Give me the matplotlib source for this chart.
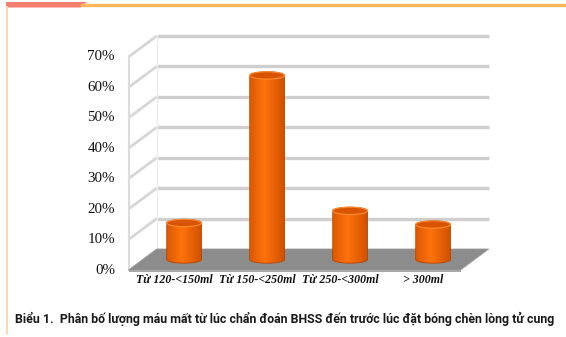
import numpy as np
import matplotlib
matplotlib.use("Agg")
import matplotlib.pyplot as plt
from matplotlib import font_manager
from matplotlib.patches import Polygon, Ellipse, Rectangle
from matplotlib.path import Path
from matplotlib.patches import PathPatch

categories = ["Từ 120-<150ml", "Từ 150-<250ml", "Từ 250-<300ml", "> 300ml"]
values = [0.120, 0.605, 0.160, 0.115]
yticks = [0.0, 0.1, 0.2, 0.3, 0.4, 0.5, 0.6, 0.7]
ytick_labels = ["0%", "10%", "20%", "30%", "40%", "50%", "60%", "70%"]
caption = "Biểu 1.  Phân bố lượng máu mất từ lúc chẩn đoán BHSS đến trước lúc đặt bóng chèn lòng tử cung"

names = {f.name for f in font_manager.fontManager.ttflist}
narrow = "Liberation Sans Narrow" if "Liberation Sans Narrow" in names else "Roboto"
serif = "Liberation Serif"

fig = plt.figure(figsize=(5.66, 3.37), dpi=100)
ax = fig.add_axes([128.5 / 566, 67 / 337, 332 / 566, 213 / 337])
ax.set_xlim(-0.5, 3.5)
ax.set_ylim(0, 0.7)
ax.axis("off")

# depth of the 3d box in data units
dx, dy = 0.34, 0.069

# frame of the page
fig.add_artist(plt.Line2D([82 / 566, 1], [1 - 5 / 337] * 2, color="#fdb75c", lw=2.4))
fig.add_artist(Polygon([[6 / 566, 1 - 2 / 337], [87 / 566, 1 - 2 / 337], [81 / 566, 1 - 7.5 / 337],
                        [6 / 566, 1 - 7.5 / 337]], closed=True, color="#f57f6f", lw=0))
fig.add_artist(plt.Line2D([6.8 / 566] * 2, [1 - 7 / 337, 1 - 333 / 337], color="#fdd7ad", lw=1.4))

# back wall grid lines and left wall diagonals
for y in yticks[1:]:
    ax.plot([-0.5 + dx, 3.5 + dx], [y + dy, y + dy], color="#cfcfcf", lw=2.4,
            solid_capstyle="butt", clip_on=False, zorder=1)
    ax.plot([-0.5, -0.5 + dx], [y, y + dy], color="#d6d6d6", lw=2.0,
            solid_capstyle="butt", clip_on=False, zorder=1)
ax.plot([-0.5, -0.5], [0, 0.7], color="#dcdcdc", lw=1.5, clip_on=False, zorder=1)
ax.plot([-0.5 + dx, -0.5 + dx], [dy, 0.7 + dy], color="#ececec", lw=1.0, clip_on=False, zorder=1)

# floor
floor = Polygon([[-0.5, 0], [3.5, 0], [3.5 + dx, dy], [-0.5 + dx, dy]], closed=True,
                facecolor="#8c8c8c", edgecolor="#9a9a9a", lw=0.6, clip_on=False, zorder=2)
ax.add_patch(floor)
ax.add_patch(Polygon([[-0.5, 0], [3.5, 0], [3.5, -0.008], [-0.5, -0.008]], closed=True,
                     facecolor="#a8a8a8", lw=0, clip_on=False, zorder=2))

# cylinders
w = 0.42
eh = 0.024
grad = np.linspace(0, 1, 64)
shade = np.clip(1 - 1.6 * np.abs(grad - 0.42), 0, 1)
c_dark = np.array([0.80, 0.30, 0.0])
c_light = np.array([1.0, 0.45, 0.05])
img = (c_dark[None, :] + (c_light - c_dark)[None, :] * shade[:, None])[None, :, :]

for i, v in enumerate(values):
    cx = i + dx / 2
    base = dy / 2
    top = base + v
    n = 40
    t = np.linspace(np.pi, 2 * np.pi, n)
    bottom_arc = np.column_stack([cx + w / 2 * np.cos(t), base + eh / 2 * np.sin(t)])
    top_arc = np.column_stack([cx + w / 2 * np.cos(t[::-1]), top + eh / 2 * np.sin(t[::-1]) * -1])
    verts = np.vstack([bottom_arc, [[cx + w / 2, top]], top_arc[::-1][::-1], [[cx - w / 2, base]]])
    body = Polygon(verts, closed=True, facecolor="none", edgecolor="#b84400", lw=0.6,
                   clip_on=False, zorder=4)
    ax.add_patch(body)
    im = ax.imshow(img, extent=[cx - w / 2, cx + w / 2, base - eh, top + eh], aspect="auto",
                   zorder=3, interpolation="bilinear")
    im.set_clip_path(body)
    ax.add_patch(Ellipse((cx, top), w, eh, facecolor="#d95400", edgecolor="#ff8a30", lw=0.8,
                         clip_on=False, zorder=5))

ax.set_xlim(-0.5, 3.5)
ax.set_ylim(0, 0.7)

# tick labels
for y, lab in zip(yticks, ytick_labels):
    ax.text(-0.5, y, lab, transform=ax.transData, ha="right", va="center",
            fontsize=10.8, family=serif, color="#111111")
    ax.texts[-1].set_position((-0.5 - 13.5 / 83, y))
for i, lab in enumerate(categories):
    ax.text(i + 0.05, -0.012, lab, ha="center", va="top", fontsize=8.6, family=serif,
            fontweight="bold", fontstyle="italic", color="#111111")

cap = fig.text(15 / 566, 1 - 323 / 337, caption, ha="left", va="baseline", fontsize=12,
               family=[narrow, "DejaVu Sans"], fontweight="bold", color="#1a1a1a")
fig.canvas.draw()
bb = cap.get_window_extent()
cap.set_fontsize(12 * 541 / bb.width)

fig.savefig("out.png", dpi=100)
